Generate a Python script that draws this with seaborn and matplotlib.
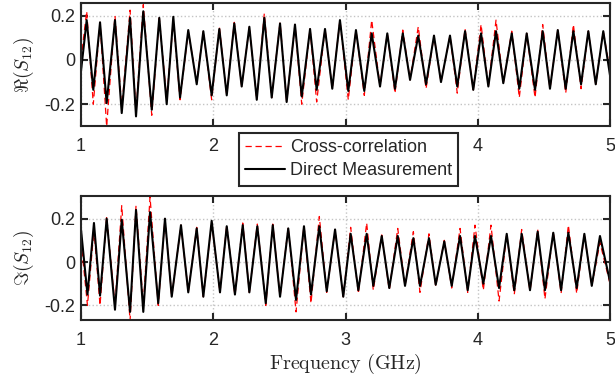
import matplotlib
matplotlib.use("Agg")
import matplotlib.pyplot as plt
import seaborn as sns

# ---- data (extrema) ----
freq_re = [1.000, 1.043, 1.093, 1.144, 1.194, 1.257, 1.308, 1.371, 1.416, 1.471,
           1.535, 1.592, 1.648, 1.698, 1.749, 1.811, 1.875, 1.925, 1.988, 2.046,
           2.102, 2.159, 2.215, 2.273, 2.329, 2.386, 2.442, 2.505, 2.555, 2.618,
           2.669, 2.732, 2.782, 2.845, 2.900, 2.958, 3.021, 3.079, 3.142, 3.198,
           3.261, 3.316, 3.374, 3.433, 3.488, 3.550, 3.609, 3.669, 3.722, 3.790,
           3.845, 3.904, 3.966, 4.025, 4.080, 4.138, 4.193, 4.257, 4.314, 4.370,
           4.433, 4.491, 4.546, 4.605, 4.665, 4.723, 4.781, 4.836, 4.892, 4.949,
           5.000]
re_direct = [-0.05, 0.18, -0.135, 0.17, -0.195, 0.18, -0.24, 0.19, -0.255, 0.22,
             -0.225, 0.19, -0.20, 0.195, -0.17, 0.135, -0.11, 0.13, -0.16, 0.14,
             -0.16, 0.165, -0.12, 0.15, -0.18, 0.19, -0.17, 0.165, -0.19, 0.16,
             -0.165, 0.14, -0.135, 0.14, -0.13, 0.18, -0.14, 0.135, -0.14, 0.12,
             -0.12, 0.12, -0.13, 0.12, -0.09, 0.11, -0.11, 0.11, -0.10, 0.11,
             -0.12, 0.13, -0.135, 0.12, -0.12, 0.13, -0.105, 0.12, -0.13, 0.12,
             -0.135, 0.13, -0.13, 0.135, -0.13, 0.13, -0.11, 0.13, -0.11, 0.13,
             -0.07]
re_cross = [0.0, 0.22, -0.20, 0.17, -0.30, 0.20, -0.22, 0.225, -0.24, 0.25,
            -0.25, 0.19, -0.18, 0.18, -0.18, 0.13, -0.10, 0.13, -0.18, 0.15,
            -0.16, 0.17, -0.12, 0.15, -0.18, 0.21, -0.17, 0.17, -0.19, 0.16,
            -0.20, 0.14, -0.19, 0.14, -0.13, 0.18, -0.18, 0.135, -0.16, 0.18,
            -0.12, 0.12, -0.15, 0.135, -0.09, 0.15, -0.13, 0.11, -0.10, 0.11,
            -0.15, 0.14, -0.135, 0.16, -0.12, 0.18, -0.105, 0.13, -0.17, 0.12,
            -0.17, 0.16, -0.13, 0.135, -0.15, 0.16, -0.13, 0.13, -0.11, 0.13,
            -0.05]

freq_im = [1.000, 1.049, 1.098, 1.144, 1.194, 1.257, 1.308, 1.371, 1.416, 1.471,
           1.522, 1.584, 1.635, 1.686, 1.756, 1.811, 1.875, 1.925, 1.988, 2.051,
           2.102, 2.164, 2.223, 2.273, 2.333, 2.397, 2.450, 2.505, 2.567, 2.626,
           2.686, 2.739, 2.802, 2.858, 2.921, 2.983, 3.039, 3.097, 3.160, 3.210,
           3.274, 3.331, 3.395, 3.450, 3.513, 3.563, 3.631, 3.682, 3.747, 3.803,
           3.866, 3.924, 3.979, 4.042, 4.100, 4.161, 4.219, 4.276, 4.332, 4.395,
           4.453, 4.508, 4.571, 4.630, 4.685, 4.748, 4.806, 4.862, 4.924, 5.000]
im_direct = [0.15, -0.15, 0.18, -0.155, 0.20, -0.22, 0.195, -0.23, 0.24, -0.23,
             0.23, -0.19, 0.20, -0.16, 0.17, -0.14, 0.155, -0.16, 0.19, -0.14,
             0.165, -0.15, 0.17, -0.14, 0.165, -0.19, 0.17, -0.16, 0.155, -0.175,
             0.165, -0.15, 0.165, -0.135, 0.15, -0.16, 0.13, -0.13, 0.13, -0.11,
             0.12, -0.12, 0.12, -0.11, 0.11, -0.11, 0.11, -0.105, 0.095, -0.11,
             0.12, -0.13, 0.12, -0.10, 0.12, -0.12, 0.13, -0.13, 0.13, -0.13,
             0.14, -0.13, 0.135, -0.13, 0.135, -0.12, 0.13, -0.11, 0.12, -0.09]
im_cross = [0.10, -0.20, 0.15, -0.20, 0.21, -0.20, 0.26, -0.27, 0.26, -0.20,
            0.30, -0.20, 0.20, -0.16, 0.17, -0.14, 0.16, -0.16, 0.185, -0.14,
            0.17, -0.155, 0.18, -0.14, 0.175, -0.20, 0.175, -0.16, 0.16, -0.23,
            0.17, -0.19, 0.21, -0.14, 0.15, -0.16, 0.16, -0.145, 0.18, -0.13,
            0.125, -0.13, 0.155, -0.11, 0.14, -0.14, 0.13, -0.11, 0.10, -0.12,
            0.155, -0.14, 0.17, -0.13, 0.17, -0.18, 0.13, -0.15, 0.15, -0.135,
            0.15, -0.17, 0.14, -0.145, 0.17, -0.145, 0.13, -0.11, 0.09, -0.10]

x_ticks = [1, 2, 3, 4, 5]
x_tick_labels = ["1", "2", "3", "4", "5"]
y_ticks = [-0.2, 0, 0.2]
y_tick_labels = ["-0.2", "0", "0.2"]

# ---- style ----
sns.set_style("ticks")
plt.rcParams.update({
    "font.family": ["Liberation Sans", "DejaVu Sans"],
    "mathtext.fontset": "cm",
    "axes.unicode_minus": False,
    "font.size": 13,
})

fig = plt.figure(figsize=(6.15, 3.77), dpi=100)
ax1 = fig.add_axes([0.1317, 0.6666, 0.8602, 0.3247])
ax2 = fig.add_axes([0.1317, 0.1520, 0.8602, 0.3273])

edge = "#262626"
for ax, f, cross, direct, ylim, ylab in [
        (ax1, freq_re, re_cross, re_direct, (-0.297, 0.256), r"$\Re(S_{12})$"),
        (ax2, freq_im, im_cross, im_direct, (-0.266, 0.303), r"$\Im(S_{12})$")]:
    sns.lineplot(x=f, y=cross, ax=ax, color="#ff0000", linewidth=0.9,
                 linestyle=(0, (5, 3)), errorbar=None,
                 label="Cross-correlation")
    sns.lineplot(x=f, y=direct, ax=ax, color="black", linewidth=1.5,
                 errorbar=None, label="Direct Measurement")
    ax.set_xlim(1, 5)
    ax.set_ylim(*ylim)
    ax.set_xticks(x_ticks)
    ax.set_xticklabels(x_tick_labels)
    ax.set_yticks(y_ticks)
    ax.set_yticklabels(y_tick_labels)
    ax.grid(True, linestyle=":", color="#c4c4c4", linewidth=1.0)
    ax.set_axisbelow(True)
    for s in ax.spines.values():
        s.set_visible(True)
        s.set_linewidth(1.5)
        s.set_color(edge)
    ax.tick_params(direction="in", length=5, width=1.5, top=True, right=True,
                   color=edge, labelcolor=edge, labelsize=13)
    ax.tick_params(axis="x", pad=9)
    ax.tick_params(axis="y", pad=4)
    ax.set_ylabel(ylab, fontsize=14, labelpad=6)
    ax.set_xlabel("")

handles, labels = ax1.get_legend_handles_labels()
for ax in (ax1, ax2):
    lg = ax.get_legend()
    if lg is not None:
        lg.remove()

ax2.set_xlabel(r"$\mathrm{Frequency\ (GHz)}$", fontsize=14.5, labelpad=2)

leg = fig.legend(handles, labels, loc="center",
                 bbox_to_anchor=(0.5667, 0.5775), fontsize=13,
                 frameon=True, fancybox=False, framealpha=1,
                 handlelength=2.2, handletextpad=0.3, borderpad=0.35,
                 labelspacing=0.33, borderaxespad=0)
leg.set_zorder(10)
leg.get_frame().set_edgecolor(edge)
leg.get_frame().set_linewidth(1.5)

fig.savefig("out.png", dpi=100)
